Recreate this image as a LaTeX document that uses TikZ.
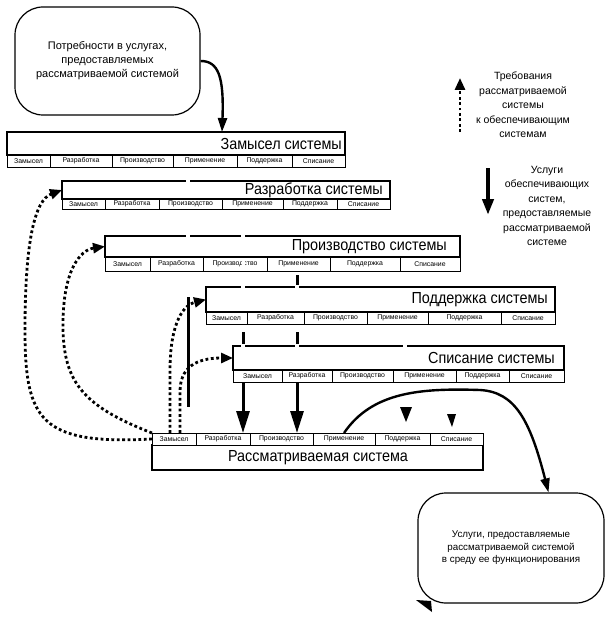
\documentclass[tikz,border=0pt]{standalone}
\usepackage{fontspec}
\setmainfont{Liberation Sans}
\newfontfamily\narrowsans{Liberation Sans}[FakeStretch=0.9]
\usetikzlibrary{arrows.meta}

\begin{document}
\begin{tikzpicture}[x=1pt,y=-1pt,
	bar/.style={draw, line width=1.1pt, fill=white, inner sep=0pt, outer sep=0pt, anchor=north west},
	cell/.style={draw, line width=0.9pt, fill=white, inner sep=0pt, outer sep=0pt, anchor=north west, font=\fontsize{6.9}{7}\selectfont},
	systitle/.style={anchor=east, inner sep=0pt, font=\narrowsans\fontsize{16}{18}\selectfont},
	bubble/.style={draw, line width=1.2pt, rounded corners=28pt, align=center, inner sep=0pt},
	keytext/.style={align=center, inner sep=0pt, font=\fontsize{10.5}{14.5}\selectfont},
	need/.style={line width=2.4pt, -{Triangle[length=14pt,width=9pt]}},
	service/.style={line width=3pt, -{Triangle[length=22pt,width=13pt]}},
	req/.style={line width=2.8pt, dash pattern=on 2.8pt off 2.6pt, -{Triangle[length=12pt,width=10pt]}},
	gap/.style={fill=white}]
	\useasboundingbox (0,0) rectangle (606,623);

	%needs and services of the system of interest
	\node[bubble, minimum width=185pt, minimum height=108pt, font=\fontsize{11}{14}\selectfont] (needs) at (107.5,61) {Потребности в услугах,\\предоставляемых\\рассматриваемой системой};
	\node[bubble, minimum width=186pt, minimum height=110pt, font=\fontsize{9.8}{12.5}\selectfont] (services) at (511,548) {Услуги, предоставляемые\\рассматриваемой системой\\в среду ее функционирования};

	%Рассматриваемая система
	\node[bar, minimum width=331pt, minimum height=25pt] (rassm) at (152,445) {};
	\foreach \xa/\xb/\lbl [count=\i] in {152/196/Замысел, 196/250/Разработка, 250/313/Производство, 313/375/Применение, 375/430/Поддержка, 430/483/Списание}
		\node[cell, minimum width={(\xb-\xa)*1pt}, minimum height=12pt] (rc-\i) at (\xa,433) {\lbl};
	\node[inner sep=0pt, font=\narrowsans\fontsize{16}{18}\selectfont] (rassm-t) at (318,458) {Рассматриваемая система};

	%black links between the enabling systems
	\draw[line width=3pt] (297,275) -- (297,285);
	\draw[line width=3pt] (243,332) -- (243,344);
	\draw[line width=3pt] (297,332) -- (297,344);

	%Замысел системы
	\node[bar, minimum width=338pt, minimum height=23pt] (zamysel) at (7,132) {};
	\node[systitle] (zamysel-t) at (342,144) {Замысел системы};
	\foreach \xa/\xb/\lbl [count=\i] in {7/50/Замысел, 50/112/Разработка, 112/173/Производство, 173/237/Применение, 237/292/Поддержка, 292/345/Списание}
		\node[cell, minimum width={(\xb-\xa)*1pt}, minimum height=12pt] (zc-\i) at (\xa,155) {\lbl};

	%Разработка системы
	\node[bar, minimum width=328pt, minimum height=18pt] (razrab) at (62,181) {};
	\node[systitle] (razrab-t) at (383,190) {Разработка системы};
	\foreach \xa/\xb/\lbl [count=\i] in {62/105/Замысел, 105/159/Разработка, 159/222/Производство, 222/283/Применение, 283/337/Поддержка, 337/390/Списание}
		\node[cell, minimum width={(\xb-\xa)*1pt}, minimum height=10pt] (dc-\i) at (\xa,199) {\lbl};

	%Производство системы
	\node[bar, minimum width=355pt, minimum height=21pt] (proizv) at (105,236) {};
	\node[systitle] (proizv-t) at (447,247) {Производство системы};
	\foreach \xa/\xb/\lbl [count=\i] in {105/150/Замысел, 150/203/Разработка, 203/267/Производство, 267/330/Применение, 330/400/Поддержка, 400/460/Списание}
		\node[cell, minimum width={(\xb-\xa)*1pt}, minimum height=14pt] (pc-\i) at (\xa,257) {\lbl};

	%Поддержка системы
	\node[bar, minimum width=349pt, minimum height=25pt] (podd) at (206,287) {};
	\node[systitle] (podd-t) at (548,300) {Поддержка системы};
	\foreach \xa/\xb/\lbl [count=\i] in {206/247/Замысел, 247/304/Разработка, 304/367/Производство, 367/428/Применение, 428/501/Поддержка, 501/555/Списание}
		\node[cell, minimum width={(\xb-\xa)*1pt}, minimum height=12pt] (sc-\i) at (\xa,312) {\lbl};

	%Списание системы
	\node[bar, minimum width=331pt, minimum height=24pt] (spis) at (233,346) {};
	\node[systitle] (spis-t) at (555,358) {Списание системы};
	\foreach \xa/\xb/\lbl [count=\i] in {233/282/Замысел, 282/332/Разработка, 332/393/Производство, 393/456/Применение, 456/509/Поддержка, 509/564/Списание}
		\node[cell, minimum width={(\xb-\xa)*1pt}, minimum height=12pt] (lc-\i) at (\xa,370) {\lbl};

	%white breaks in the box edges
	\foreach \gx/\gy in {188/181, 188/236, 243/236, 243/287, 297/287, 243/346, 297/346, 405/346}
		\fill[gap] (\gx-2,\gy-2) rectangle (\gx+2,\gy+2);
	\fill[gap] (241.5,259) rectangle (244.5,269);

	%requirements, dotted
	\draw[req] (rc-1.west) .. controls (40,445) and (25,420) .. (25,330) .. controls (25,240) and (35,200) .. (razrab.west);
	\draw[req] (rc-1.north west) .. controls (80,405) and (62,380) .. (63,320) .. controls (64,270) and (80,250) .. (proizv.west);
	\draw[req] ([xshift=18pt]rc-1.north west) -- (170,370) .. controls (170,330) and (180,306) .. (podd.west);
	\draw[req] ([xshift=28pt]rc-1.north west) -- (180,392) .. controls (180,368) and (195,358) .. (spis.west);
	\draw[line width=3pt] (188,297) -- (188,407);

	%services of the enabling systems
	\draw[service] ([xshift=10pt]lc-1.south west) -- ([xshift=10pt]lc-1.south west |- rc-2.north);
	\draw[service] ([xshift=15pt]lc-2.south west) -- ([xshift=15pt]lc-2.south west |- rc-3.north);
	\fill (400,407) -- (412,407) -- (406,422) -- cycle;
	\fill (447,414) -- (456,414) -- (452,427) -- cycle;
	\fill (416,600) -- (431,601) -- (432,612) -- cycle;

	%needs in and services out
	\draw[need] (needs.east) .. controls +(18,0) and +(2,-55) .. ([xshift=215pt]zamysel.north west);
	\draw[need] (rc-4.north) .. controls (372,392) and (420,388) .. (480,390) .. controls (515,392) and (530,420) .. (services.56);

	%key
	\coordinate (reqkey) at (460,132);
	\draw[req] (reqkey) -- ++(0,-54);
	\node[keytext] (reqtext) at (523,105) {Требования\\рассматриваемой\\системы\\к обеспечивающим\\системам};
	\coordinate (servkey) at (488,168);
	\draw[line width=4pt, -{Triangle[length=16pt,width=11pt]}] (servkey) -- ++(0,47);
	\node[keytext] (servtext) at (547,206) {Услуги\\обеспечивающих\\систем,\\предоставляемые\\рассматриваемой\\системе};
\end{tikzpicture}
\end{document}
